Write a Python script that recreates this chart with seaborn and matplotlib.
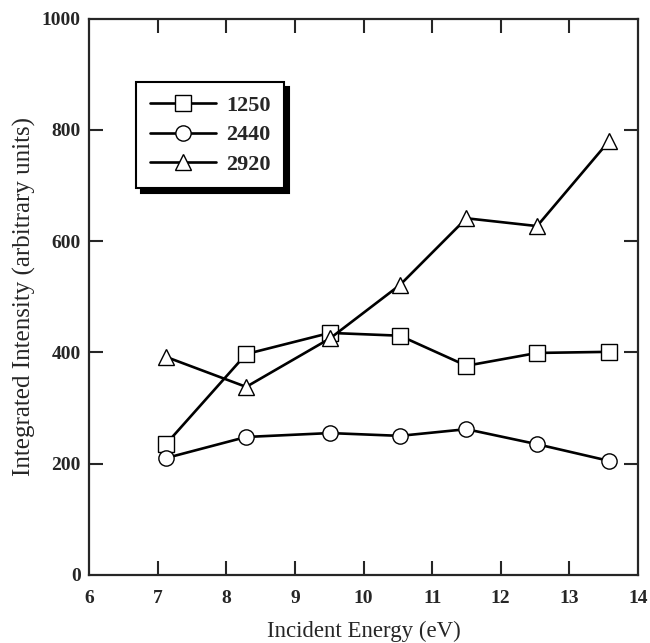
import matplotlib
matplotlib.use("Agg")
import matplotlib.pyplot as plt
import seaborn as sns
import pandas as pd

energy = [7.12, 8.29, 9.51, 10.53, 11.50, 12.53, 13.58]
series_names = ["1250", "2440", "2920"]
int_1250 = [235, 397, 435, 430, 376, 399, 401]
int_2440 = [210, 248, 255, 250, 262, 235, 205]
int_2920 = [392, 338, 425, 521, 641, 627, 780]

rows = []
for name, vals in zip(series_names, [int_1250, int_2440, int_2920]):
    for e, v in zip(energy, vals):
        rows.append({"energy": e, "intensity": v, "series": name})
df = pd.DataFrame(rows)

sns.set_style("ticks")
plt.rcParams["font.family"] = ["Liberation Serif", "DejaVu Serif"]

fig = plt.figure(figsize=(6.5, 6.43), dpi=100)
ax = fig.add_axes([0.137, 0.1058, 0.8445, 0.8654])

sns.lineplot(data=df, x="energy", y="intensity", style="series",
             markers={"1250": "s", "2440": "o", "2920": "^"}, dashes=False,
             color="black", linewidth=1.9, markersize=11,
             markerfacecolor="white", markeredgecolor="black",
             markeredgewidth=1.0, legend=False, ax=ax)

ax.set_xlim(6, 14)
ax.set_ylim(0, 1000)
ax.set_xticks(range(6, 15))
ax.set_yticks(range(0, 1001, 200))
ax.tick_params(direction="in", length=10, width=1.5, top=True, right=True,
               labelsize=14)
ax.tick_params(axis="x", pad=11)
ax.tick_params(axis="y", pad=6)
for t in ax.get_xticklabels() + ax.get_yticklabels():
    t.set_fontweight("bold")
# no ticks at the corners, like the original
for tk in ax.xaxis.get_major_ticks():
    if tk.get_loc() in (6, 14):
        tk.tick1line.set_visible(False)
        tk.tick2line.set_visible(False)
for tk in ax.yaxis.get_major_ticks():
    if tk.get_loc() in (0, 1000):
        tk.tick1line.set_visible(False)
        tk.tick2line.set_visible(False)
for s in ax.spines.values():
    s.set_linewidth(1.6)

ax.set_xlabel("Incident Energy (eV)", fontsize=16.5, labelpad=10)
ax.set_ylabel("Integrated Intensity (arbitrary units)", fontsize=18,
              labelpad=4)

leg = ax.legend(ax.lines[:3], series_names, loc="upper left",
                bbox_to_anchor=(0.086, 0.886), borderaxespad=0,
                fancybox=False, edgecolor="black", framealpha=1,
                shadow={"ox": 3.5, "oy": -3.5, "facecolor": "black",
                        "edgecolor": "black", "alpha": 1},
                handlelength=3.0, handletextpad=0.45, labelspacing=0.4,
                borderpad=0.6, prop={"size": 16, "weight": "bold"})
leg.get_frame().set_linewidth(1.5)

fig.savefig("out.png", dpi=100)
